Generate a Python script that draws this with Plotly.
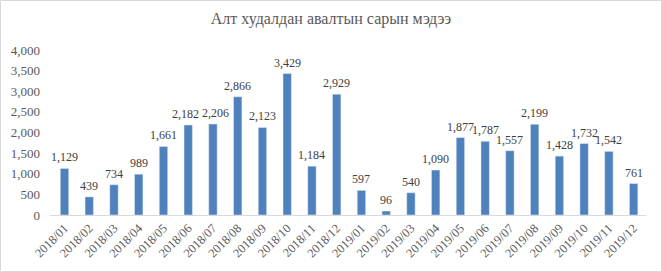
import plotly.graph_objects as go

months = ["2018/01","2018/02","2018/03","2018/04","2018/05","2018/06","2018/07","2018/08","2018/09","2018/10","2018/11","2018/12",
          "2019/01","2019/02","2019/03","2019/04","2019/05","2019/06","2019/07","2019/08","2019/09","2019/10","2019/11","2019/12"]
values = [1129,439,734,989,1661,2182,2206,2866,2123,3429,1184,2929,
          597,96,540,1090,1877,1787,1557,2199,1428,1732,1542,761]
y_ticks = [0,500,1000,1500,2000,2500,3000,3500,4000]

SERIF = "Liberation Serif, Times New Roman, serif"
W, H = 662, 272
ml, mr, mt, mb = 50, 16, 50, 57
pw, ph = W - ml - mr, H - mt - mb

# small nudges so adjacent labels do not collide
label_xshift = {"2018/06": -3, "2018/07": 3}

fig = go.Figure(go.Bar(
    x=months, y=values,
    marker_color="#4f81bd",
    cliponaxis=False,
))

for m, v in zip(months, values):
    fig.add_annotation(x=m, y=v, text=f"{v:,}", showarrow=False,
                       yanchor="bottom", yshift=3, xshift=label_xshift.get(m, 0),
                       borderpad=0,
                       font=dict(family=SERIF, size=12, color="#404040"))

fig.update_layout(
    width=W, height=H,
    margin=dict(l=ml, r=mr, t=mt, b=mb),
    paper_bgcolor="white", plot_bgcolor="white",
    bargap=0.66,
    showlegend=False,
    title=dict(text="Алт худалдан авалтын сарын мэдээ", x=0.5, xanchor="center",
               y=1 - 18/H, yanchor="middle",
               font=dict(family=SERIF, size=16, color="#595959")),
    font=dict(family=SERIF, color="#595959"),
    xaxis=dict(tickangle=-45, tickfont=dict(family=SERIF, size=12.5, color="#595959"),
               showline=True, linecolor="#d9d9d9", linewidth=1, ticks="",
               showgrid=False),
    yaxis=dict(range=[0, 4000], tickvals=y_ticks, tickformat=",d",
               tickfont=dict(family=SERIF, size=13, color="#595959"),
               ticklabelstandoff=9,
               showgrid=False, zeroline=False, showline=False, ticks=""),
    shapes=[dict(type="rect", xref="paper", yref="paper",
                 x0=-(ml - 0.5)/pw, x1=1 + (mr - 0.5)/pw,
                 y0=-(mb - 0.5)/ph, y1=1 + (mt - 0.5)/ph,
                 line=dict(color="#d9d9d9", width=1))],
)

fig.write_html("out.html")
